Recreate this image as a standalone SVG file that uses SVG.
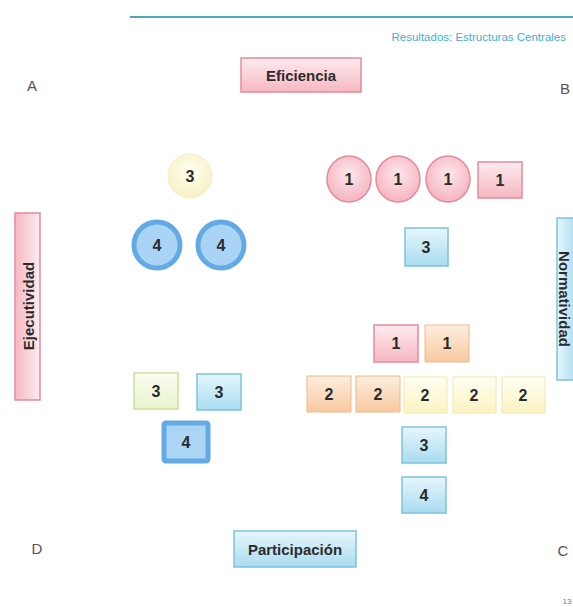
<svg xmlns="http://www.w3.org/2000/svg" width="573" height="607" viewBox="0 0 573 607">
<defs>
<linearGradient id="gPink" x1="0" y1="0" x2="0" y2="1"><stop offset="0" stop-color="#fdecef"/><stop offset="1" stop-color="#f6b7c2"/></linearGradient>
<linearGradient id="gPinkH" x1="0" y1="0" x2="1" y2="0"><stop offset="0" stop-color="#f6b7c2"/><stop offset="1" stop-color="#fdecef"/></linearGradient>
<linearGradient id="gBlue" x1="0" y1="0" x2="0" y2="1"><stop offset="0" stop-color="#e6f6fc"/><stop offset="1" stop-color="#a9dcf0"/></linearGradient>
<linearGradient id="gBlueH" x1="0" y1="0" x2="1" y2="0"><stop offset="0" stop-color="#e6f6fc"/><stop offset="1" stop-color="#a9dcf0"/></linearGradient>
<linearGradient id="gOrange" x1="0" y1="0" x2="0" y2="1"><stop offset="0" stop-color="#fdeedf"/><stop offset="1" stop-color="#f8c99e"/></linearGradient>
<linearGradient id="gYellow" x1="0" y1="0" x2="0" y2="1"><stop offset="0" stop-color="#fffef2"/><stop offset="1" stop-color="#fbf3c2"/></linearGradient>
<linearGradient id="gGreen" x1="0" y1="0" x2="0" y2="1"><stop offset="0" stop-color="#fbfdf2"/><stop offset="1" stop-color="#e8f3cc"/></linearGradient>
<radialGradient id="rPink" cx="0.5" cy="0.4" r="0.6"><stop offset="0" stop-color="#fde8ec"/><stop offset="1" stop-color="#f5b3bf"/></radialGradient>
<radialGradient id="rYellow" cx="0.5" cy="0.4" r="0.6"><stop offset="0" stop-color="#fffff0"/><stop offset="1" stop-color="#f7f1c4"/></radialGradient>
</defs>
<style>
.num{font-family:"Liberation Sans",Arial,sans-serif;font-weight:bold;font-size:16px;fill:#2b2b2b;text-anchor:middle;dominant-baseline:central}
.lbl{font-family:"Liberation Sans",Arial,sans-serif;font-weight:bold;font-size:15px;fill:#2b2b2b;text-anchor:middle;dominant-baseline:central}
.corner{font-family:"Liberation Sans",Arial,sans-serif;font-size:15px;fill:#555;text-anchor:middle;dominant-baseline:central}
.pink{fill:url(#gPink);stroke:#e58a9a;stroke-width:1.5}
.blue{fill:url(#gBlue);stroke:#7fc2dd;stroke-width:1.5}
.orange{fill:url(#gOrange);stroke:#f0b889;stroke-width:1}
.yellow{fill:url(#gYellow);stroke:#f2e9a8;stroke-width:1}
.green{fill:url(#gGreen);stroke:#c8e297;stroke-width:1.5}
</style>
<line x1="130" y1="17" x2="573" y2="17" stroke="#4fa6b8" stroke-width="2"/>
<text x="566" y="37" font-family="Liberation Sans,Arial,sans-serif" font-size="11.5" fill="#3fb0cc" text-anchor="end" dominant-baseline="central">Resultados: Estructuras Centrales</text>
<text class="corner" x="32" y="85">A</text>
<text class="corner" x="565" y="88">B</text>
<text class="corner" x="37" y="548">D</text>
<text class="corner" x="563" y="550">C</text>
<text x="567" y="601" font-family="Liberation Sans,Arial,sans-serif" font-size="8" fill="#777" text-anchor="middle" dominant-baseline="central">13</text>

<g id="eficiencia"><rect class="pink" x="241" y="58" width="120" height="34"/><text class="lbl" x="301" y="75">Eficiencia</text></g>
<g id="participacion"><rect class="blue" x="234" y="531" width="122" height="36"/><text class="lbl" x="295" y="549">Participación</text></g>
<g id="ejecutividad"><rect x="15" y="213" width="25" height="187" fill="url(#gPinkH)" stroke="#e58a9a" stroke-width="1.5"/><text class="lbl" transform="translate(28,306) rotate(-90)" x="0" y="0">Ejecutividad</text></g>
<g id="normatividad"><rect x="557" y="218" width="20" height="162" fill="url(#gBlueH)" stroke="#7fc2dd" stroke-width="1.5"/><text class="lbl" font-size="14" transform="translate(564,299) rotate(90)" x="0" y="0">Normatividad</text></g>

<g id="c-y3"><circle cx="190" cy="176" r="22" fill="url(#rYellow)" stroke="#f3eec8" stroke-width="1"/><text class="num" x="190" y="176">3</text></g>
<g id="c-b4a"><circle cx="157" cy="245" r="23" fill="#a9d4f5" stroke="#62a9e6" stroke-width="5"/><text class="num" x="157" y="245">4</text></g>
<g id="c-b4b"><circle cx="221" cy="245" r="23" fill="#a9d4f5" stroke="#62a9e6" stroke-width="5"/><text class="num" x="221" y="245">4</text></g>

<g id="c-p1a"><ellipse cx="349" cy="179" rx="22" ry="23" fill="url(#rPink)" stroke="#e58a9a" stroke-width="1.5"/><text class="num" x="349" y="179">1</text></g>
<g id="c-p1b"><ellipse cx="398" cy="179" rx="22" ry="23" fill="url(#rPink)" stroke="#e58a9a" stroke-width="1.5"/><text class="num" x="398" y="179">1</text></g>
<g id="c-p1c"><ellipse cx="448" cy="179" rx="22" ry="23" fill="url(#rPink)" stroke="#e58a9a" stroke-width="1.5"/><text class="num" x="448" y="179">1</text></g>
<g id="r-p1"><rect class="pink" x="478" y="162" width="44" height="36"/><text class="num" x="500" y="180">1</text></g>
<g id="r-b3top"><rect class="blue" x="405" y="228" width="43" height="38"/><text class="num" x="426" y="247">3</text></g>

<g id="r-p1b"><rect class="pink" x="374" y="325" width="44" height="37"/><text class="num" x="396" y="343">1</text></g>
<g id="r-o1"><rect class="orange" x="425" y="325" width="44" height="37"/><text class="num" x="447" y="343">1</text></g>

<g id="r-o2a"><rect class="orange" x="307" y="376" width="44" height="36"/><text class="num" x="329" y="394">2</text></g>
<g id="r-o2b"><rect class="orange" x="356" y="376" width="44" height="36"/><text class="num" x="378" y="394">2</text></g>
<g id="r-y2a"><rect class="yellow" x="404" y="377" width="43" height="36"/><text class="num" x="425" y="395">2</text></g>
<g id="r-y2b"><rect class="yellow" x="453" y="377" width="43" height="36"/><text class="num" x="474" y="395">2</text></g>
<g id="r-y2c"><rect class="yellow" x="502" y="377" width="43" height="36"/><text class="num" x="523" y="395">2</text></g>

<g id="r-b3"><rect class="blue" x="402" y="427" width="44" height="36"/><text class="num" x="424" y="445">3</text></g>
<g id="r-b4"><rect class="blue" x="402" y="477" width="44" height="36"/><text class="num" x="424" y="495">4</text></g>

<g id="r-g3"><rect class="green" x="134" y="373" width="44" height="36"/><text class="num" x="156" y="391">3</text></g>
<g id="r-b3l"><rect class="blue" x="197" y="374" width="44" height="36"/><text class="num" x="219" y="392">3</text></g>
<g id="r-db4"><rect x="164" y="423" width="44" height="38" rx="2" fill="#aad5f5" stroke="#62a9e6" stroke-width="5"/><text class="num" x="186" y="442">4</text></g>
</svg>
